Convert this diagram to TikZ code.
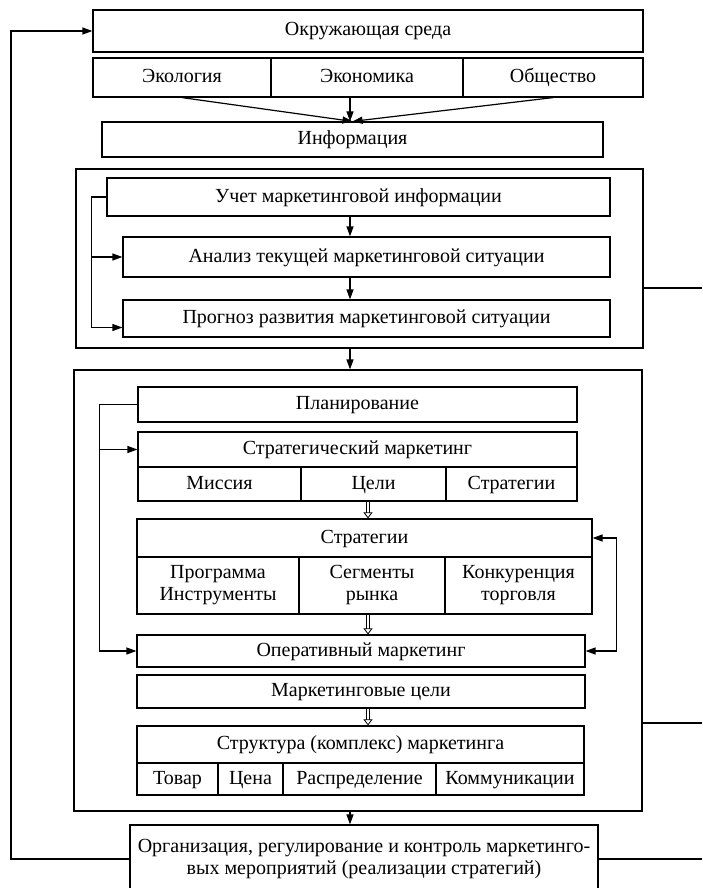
\documentclass[tikz,border=0pt]{standalone}
\usepackage{fontspec}
\setmainfont{Liberation Serif}
\usetikzlibrary{arrows.meta}

\begin{document}
\begin{tikzpicture}[x=1pt, y=-1pt,
  tbox/.style={draw, line width=1.2pt, inner sep=0pt, align=center,
    font=\fontsize{20}{22}\selectfont},
  box/.style={tbox, text height=14pt, text depth=4pt},
  arr/.style={line width=1.2pt, -{Triangle[length=10pt,width=7pt]}},
  arrb/.style={line width=1.2pt,
    {Triangle[length=10pt,width=7pt]}-{Triangle[length=10pt,width=7pt]}},
  hollow/.style={double, line width=0.8pt, double distance=2.2pt,
    -{Triangle[open,length=6pt,width=9pt]}},
  link/.style={line width=1.2pt}]
  \useasboundingbox (0,0) rectangle (702,888);
  \clip (0,0) rectangle (702,888);

  % Окружающая среда
  \node[box, minimum width=550, minimum height=42] (env) at (368,31) {Окружающая среда};
  \node[box, minimum width=178, minimum height=39] (ecol) at (182,77.5) {Экология};
  \node[box, minimum width=192, minimum height=39] (econ) at (367,77.5) {Экономика};
  \node[box, minimum width=180, minimum height=39] (soc) at (553,77.5) {Общество};

  % Информация
  \node[box, minimum width=501, minimum height=35] (info) at (352.5,139.5) {Информация};
  \coordinate (ax) at (350,0);
  \draw[arr] (ecol.south) -- (info.north);
  \draw[arr] (econ.south -| ax) -- (info.north -| ax);
  \draw[arr] (soc.south) -- (info.north);

  % Блок анализа
  \node[box, minimum width=567, minimum height=179] (analysis) at (359.5,258.5) {};
  \node[box, minimum width=503, minimum height=38] (uchet) at (358.5,197) {Учет маркетинговой информации};
  \node[box, minimum width=487, minimum height=40] (anal) at (366.5,257) {Анализ текущей маркетинговой ситуации};
  \node[box, minimum width=487, minimum height=37] (prog) at (366.5,318.5) {Прогноз развития маркетинговой ситуации};
  \draw[arr] (uchet.south -| ax) -- (anal.north -| ax);
  \draw[arr] (anal.south -| ax) -- (prog.north -| ax);
  \draw[arr] (uchet.west) -- ++(-15,0) |- (anal.west);
  \draw[arr] (uchet.west) -- ++(-15,0) |- ([yshift=-9pt]prog.west);

  % Блок планирования
  \node[box, minimum width=568, minimum height=441] (impl) at (358,590.5) {};
  \draw[arr] (analysis.south -| ax) -- (impl.north -| ax);
  \node[box, minimum width=439, minimum height=35] (plan) at (357.5,404.5) {Планирование};
  \node[box, minimum width=439, minimum height=35] (smark) at (357.5,449.5) {Стратегический маркетинг};
  \node[box, minimum width=163, minimum height=34] (miss) at (219.5,484) {Миссия};
  \node[box, minimum width=145, minimum height=34] (goal) at (373.5,484) {Цели};
  \node[box, minimum width=131, minimum height=34] (strat) at (511.5,484) {Стратегии};

  \node[box, minimum width=455, minimum height=38] (strg) at (364.5,538) {Стратегии};
  \node[tbox, minimum width=162, minimum height=57] (prg) at (218,585.5) {Программа\\Инструменты};
  \node[tbox, minimum width=146, minimum height=57] (seg) at (372,585.5) {Сегменты\\рынка};
  \node[tbox, minimum width=147, minimum height=57] (konk) at (518.5,585.5) {Конкуренция\\торговля};

  \node[box, minimum width=448, minimum height=32] (oper) at (361,651) {Оперативный маркетинг};
  \node[box, minimum width=448, minimum height=33] (mcel) at (361,691.5) {Маркетинговые цели};
  \node[box, minimum width=447, minimum height=37] (struk) at (360.5,744.5) {Структура (комплекс) маркетинга};
  \node[box, minimum width=81, minimum height=32] (tov) at (177.5,779) {Товар};
  \node[box, minimum width=65, minimum height=32] (cena) at (250.5,779) {Цена};
  \node[box, minimum width=153, minimum height=32] (rasp) at (359.5,779) {Распределение};
  \node[box, minimum width=148, minimum height=32] (komm) at (510,779) {Коммуникации};

  \coordinate (hx) at (368,0);
  \draw[hollow] (goal.south -| hx) -- (strg.north -| hx);
  \draw[hollow] (seg.south -| hx) -- (oper.north -| hx);
  \draw[hollow] (mcel.south -| hx) -- (struk.north -| hx);
  \draw[arr] (plan.west) -- ++(-38,0) |- (smark.west);
  \draw[arr] (plan.west) -- ++(-38,0) |- (oper.west);
  \draw[arrb] (strg.east) -- ++(24,0) |- (oper.east);

  % Организация
  \node[tbox, minimum width=468, minimum height=68] (org) at (364,859)
    {Организация, регулирование и контроль маркетинго-\\вых мероприятий (реализации стратегий)};
  \draw[arr] (impl.south -| ax) -- (org.north -| ax);

  % Обратная связь
  \coordinate (fb) at (11,0);
  \draw[arr] (org.west) -- (org.west -| fb) -- (env.west -| fb) -- (env.west);
  \coordinate (out1) at (702,288);
  \coordinate (out2) at (702,723);
  \coordinate (out3) at (702,859);
  \draw[link] (out1 -| analysis.east) -- (out1);
  \draw[link] (out2 -| impl.east) -- (out2);
  \draw[link] (org.east) -- (out3);
\end{tikzpicture}
\end{document}
